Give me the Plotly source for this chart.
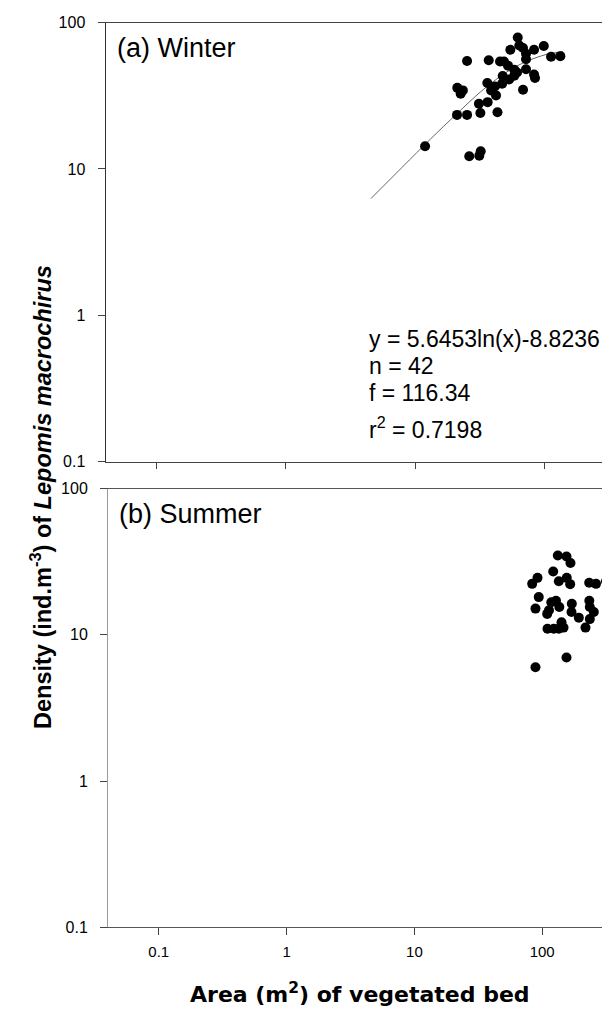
import plotly.graph_objects as go

W, H = 610, 1012

# ---- Data ----
winter_area = [61.8, 54.2, 67.9, 82.6, 98.2, 25.1, 36.9, 45.1, 48.4, 71.6,
               111.7, 131.8, 58.1, 58.1, 71.6, 82.6, 84.0, 47.3, 36.0, 41.2,
               46.8, 21.1, 22.4, 42.0, 67.9, 31.0, 36.2, 31.8, 21.0, 25.1,
               43.1, 11.9, 26.1, 31.2, 32.0, 63.5, 71.6, 52.0, 38.5, 53.0,
               23.3, 61.0]
winter_density = [79.0, 65.2, 67.0, 65.2, 69.2, 54.6, 55.3, 54.2, 54.2, 56.1,
                  58.4, 59.0, 47.6, 43.3, 48.0, 44.1, 41.8, 43.1, 38.7, 36.6,
                  38.2, 35.8, 32.6, 31.8, 34.8, 27.9, 28.6, 24.1, 23.4, 23.4,
                  24.4, 14.3, 12.2, 12.3, 13.2, 69.7, 61.3, 50.8, 34.4, 40.8,
                  34.4, 45.6]

fit_area = [4.55, 13.2, 20.6, 32.1, 50.1, 71.6, 102.1, 138.4]
fit_density = [6.27, 16.1, 23.5, 33.8, 45.6, 54.2, 60.5, 63.4]

summer_area = [132.5, 154.9, 166.4, 121.9, 91.9, 83.5, 134.9, 155.6, 165.5, 233.2,
               263.6, 315.5, 94.0, 88.6, 117.8, 128.2, 113.0, 136.1, 170.5, 169.5,
               193.4, 233.7, 235.7, 253.4, 235.7, 218.1, 141.6, 110.0, 123.2, 134.9,
               146.8, 154.9, 88.6, 109.4]
summer_density = [34.8, 34.3, 31.0, 27.1, 24.5, 22.3, 23.2, 24.5, 22.2, 22.7,
                  22.3, 23.2, 18.1, 15.1, 16.7, 17.1, 14.7, 15.5, 16.3, 14.3,
                  13.1, 17.1, 15.5, 14.3, 12.8, 11.2, 12.2, 11.0, 11.0, 11.0,
                  11.2, 7.0, 6.0, 13.9]

tick_vals = [0.1, 1, 10, 100]
tick_text = ["0.1", "1", "10", "100"]

stats_lines = ["y = 5.6453ln(x)-8.8236", "n = 42", "f = 116.34", "r<sup>2</sup> = 0.7198"]

FONT = "Liberation Sans, Arial, sans-serif"

# the page is shown with an offset/scale; convert target screen pixels to paper fractions
OX, SY, OY = 7.5, 0.9834, 15.4

def px_x(p):
    return (p - OX) / W

def px_y(p):
    return 1 - ((p - OY) / SY) / H

fig = go.Figure()
fig.add_trace(go.Scatter(x=fit_area, y=fit_density, mode="lines",
                         line=dict(color="#666666", width=1, shape="spline", smoothing=0.8),
                         xaxis="x", yaxis="y", showlegend=False, hoverinfo="skip"))
fig.add_trace(go.Scatter(x=winter_area, y=winter_density, mode="markers",
                         marker=dict(color="black", size=10, line=dict(width=0)),
                         xaxis="x", yaxis="y", showlegend=False))
fig.add_trace(go.Scatter(x=summer_area, y=summer_density, mode="markers",
                         marker=dict(color="black", size=10, line=dict(width=0)),
                         xaxis="x2", yaxis="y2", showlegend=False))

common_x = dict(type="log", showgrid=False, zeroline=False, showline=True, mirror=True,
                ticks="outside", tickvals=tick_vals, ticktext=tick_text, tickcolor="#444444",
                tickfont=dict(family=FONT, size=15, color="black"))
common_y = dict(type="log", range=[-1, 2], showgrid=False, zeroline=False, showline=True, mirror=False,
                ticks="outside", ticklen=7, tickvals=tick_vals, ticktext=tick_text, tickcolor="#444444",
                tickfont=dict(family=FONT, size=16, color="black"), ticklabelstandoff=9)

fig.update_layout(
    width=W, height=H, margin=dict(l=0, r=0, t=0, b=0),
    paper_bgcolor="white", plot_bgcolor="white",
    xaxis=dict(**common_x, domain=[px_x(105), 1], range=[-1.3915, 2.565], ticklen=6,
               showticklabels=False, linecolor="#444444", anchor="y"),
    yaxis=dict(**common_y, domain=[px_y(461), px_y(22)], linecolor="#333333", anchor="x"),
    xaxis2=dict(**common_x, domain=[px_x(107.5), 1], range=[-1.397, 2.593], ticklen=7,
                linecolor="#555555", anchor="y2", ticklabelstandoff=4),
    yaxis2=dict(**common_y, domain=[px_y(927), px_y(488)], linecolor="#999999", anchor="x2"),
)

ann = []
ann.append(dict(text="(a) Winter", x=px_x(114), y=px_y(47), xref="paper", yref="paper",
                xanchor="left", yanchor="middle", showarrow=False,
                font=dict(family=FONT, size=27, color="black")))
ann.append(dict(text="(b) Summer", x=px_x(116), y=px_y(514), xref="paper", yref="paper",
                xanchor="left", yanchor="middle", showarrow=False,
                font=dict(family=FONT, size=27, color="black")))
for txt, yy in zip(stats_lines, [338, 365, 392, 427]):
    ann.append(dict(text=txt, x=px_x(366), y=px_y(yy), xref="paper", yref="paper",
                    xanchor="left", yanchor="middle", showarrow=False,
                    font=dict(family=FONT, size=23, color="black")))
ann.append(dict(text="<b>Density (ind.m<sup>-3</sup>) of <i>Lepomis macrochirus</i></b>",
                x=px_x(40), y=px_y(497), xref="paper", yref="paper", textangle=-90,
                xanchor="center", yanchor="middle", showarrow=False,
                font=dict(family=FONT, size=23.5, color="black")))
ann.append(dict(text="<b>Area (m<sup>2</sup>) of vegetated bed</b>",
                x=px_x(359), y=px_y(993), xref="paper", yref="paper",
                xanchor="center", yanchor="middle", showarrow=False,
                font=dict(family="DejaVu Sans, sans-serif", size=22, color="black")))
fig.update_layout(annotations=ann)

fig.write_html("out.html")
